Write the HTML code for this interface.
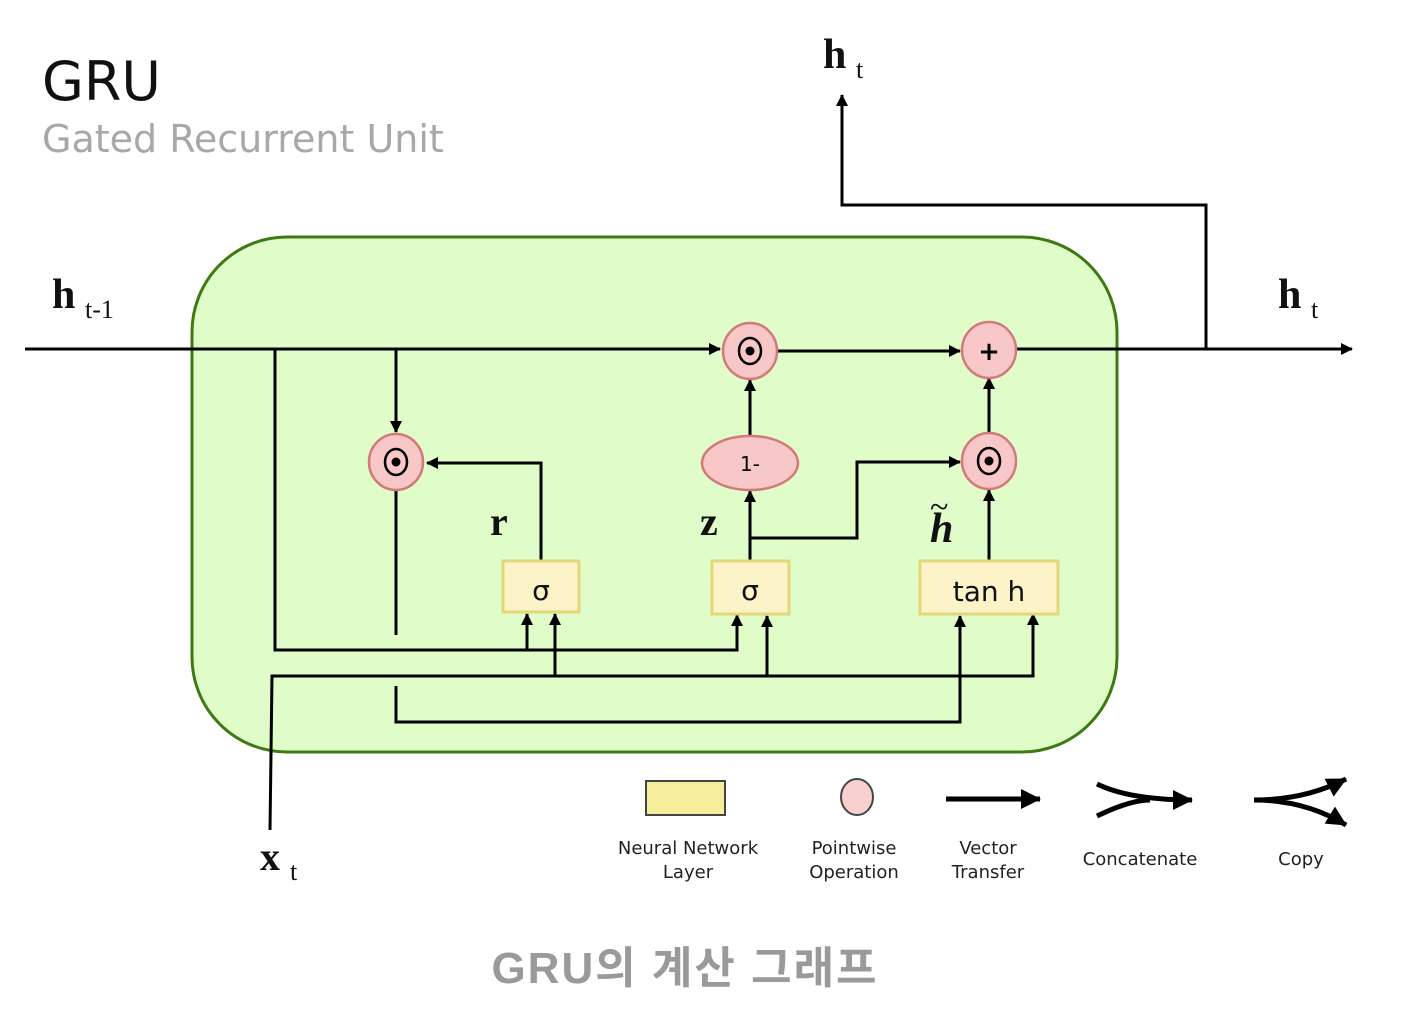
<!DOCTYPE html>
<html><head><meta charset="utf-8"><style>
html,body{margin:0;padding:0;background:#fff;}
svg{display:block;}
</style></head><body>
<svg width="1404" height="1027" viewBox="0 0 1404 1027" xmlns="http://www.w3.org/2000/svg">
<defs>
<marker id="a" markerWidth="12" markerHeight="12" refX="11" refY="6" orient="auto" markerUnits="userSpaceOnUse">
<path d="M0,0 L12,6 L0,12 z" fill="#000"/></marker>
<marker id="b" markerWidth="20" markerHeight="20" refX="19" refY="10" orient="auto" markerUnits="userSpaceOnUse">
<path d="M0,0 L20,10 L0,20 z" fill="#000"/></marker>
</defs>
<text x="42" y="100" font-family="DejaVu Sans, sans-serif" font-size="54" fill="#111">GRU</text>
<text x="42" y="152" font-family="DejaVu Sans, sans-serif" font-size="38" fill="#a8a8a8">Gated Recurrent Unit</text>

<rect x="192" y="237" width="925" height="515" rx="95" ry="95" fill="#e0fcc9" stroke="#3e7a12" stroke-width="3"/>

<g stroke="#000" stroke-width="3" fill="none">
<line x1="25" y1="349" x2="720" y2="349" marker-end="url(#a)"/>
<line x1="777" y1="351" x2="960" y2="351" marker-end="url(#a)"/>
<line x1="1017" y1="349" x2="1352" y2="349" marker-end="url(#a)"/>
<polyline points="1206,349 1206,205 842,205 842,95" marker-end="url(#a)"/>
<line x1="396" y1="349" x2="396" y2="432" marker-end="url(#a)"/>
<line x1="396" y1="490" x2="396" y2="635"/>
<polyline points="275,349 275,650 737,650 737,615" marker-end="url(#a)"/>
<line x1="527" y1="650" x2="527" y2="614" marker-end="url(#a)"/>
<polyline points="270,830 272,676 1033,676 1033,614" marker-end="url(#a)"/>
<line x1="555" y1="676" x2="555" y2="614" marker-end="url(#a)"/>
<line x1="767" y1="676" x2="767" y2="616" marker-end="url(#a)"/>
<polyline points="396,686 396,722 960,722 960,616" marker-end="url(#a)"/>
<polyline points="541,561 541,463 427,463" marker-end="url(#a)"/>
<line x1="750" y1="561" x2="750" y2="491" marker-end="url(#a)"/>
<line x1="750" y1="436" x2="750" y2="380" marker-end="url(#a)"/>
<polyline points="750,538 857,538 857,462 960,462" marker-end="url(#a)"/>
<line x1="989" y1="561" x2="989" y2="490" marker-end="url(#a)"/>
<line x1="989" y1="432" x2="989" y2="378" marker-end="url(#a)"/>
</g>

<g fill="#f8c8c8" stroke="#d27a7a" stroke-width="2.5">
<ellipse cx="750" cy="351" rx="27" ry="28"/>
<ellipse cx="989" cy="350" rx="27" ry="28"/>
<ellipse cx="989" cy="461" rx="27" ry="28"/>
<ellipse cx="396" cy="462" rx="27" ry="28"/>
<ellipse cx="750" cy="463" rx="48" ry="27"/>
</g>
<g fill="none" stroke="#000" stroke-width="2.5">
<ellipse cx="750" cy="351" rx="11" ry="13"/>
<ellipse cx="989" cy="461" rx="11" ry="13"/>
<ellipse cx="396" cy="462" rx="11" ry="13"/>
</g>
<g fill="#000">
<circle cx="750" cy="351" r="4.5"/><circle cx="989" cy="461" r="4.5"/><circle cx="396" cy="462" r="4.5"/>
</g>
<text x="989" y="360" text-anchor="middle" font-family="DejaVu Sans, sans-serif" font-size="26" font-weight="bold">+</text>
<text x="750" y="471" text-anchor="middle" font-family="DejaVu Sans, sans-serif" font-size="20">1-</text>

<g fill="#fdf3c8" stroke="#e3d77a" stroke-width="3">
<rect x="503" y="561" width="76" height="51"/>
<rect x="712" y="561" width="77" height="53"/>
<rect x="920" y="561" width="138" height="53"/>
</g>
<g font-family="DejaVu Sans, sans-serif" font-size="28" text-anchor="middle" fill="#111">
<text x="541" y="600">σ</text>
<text x="750" y="600">σ</text>
<text x="989" y="601">tan h</text>
</g>

<g font-family="Liberation Serif, serif" font-weight="bold" fill="#111">
<text x="490" y="535" font-size="40">r</text>
<text x="700" y="535" font-size="40">z</text>
<text x="52" y="308" font-size="42">h</text><text x="85" y="318" font-size="26" font-weight="normal">t-1</text>
<text x="823" y="68" font-size="42">h</text><text x="856" y="78" font-size="26" font-weight="normal">t</text>
<text x="1278" y="308" font-size="42">h</text><text x="1311" y="318" font-size="26" font-weight="normal">t</text>
<text x="260" y="870" font-size="40">x</text><text x="290" y="880" font-size="26" font-weight="normal">t</text>
</g>
<text x="930" y="542" font-family="Liberation Serif, serif" font-style="italic" font-weight="bold" font-size="42" fill="#111">h</text>
<text x="930" y="518" font-family="Liberation Serif, serif" font-size="34" fill="#111">~</text>

<rect x="646" y="781" width="79" height="34" fill="#f6ee9c" stroke="#444" stroke-width="2"/>
<ellipse cx="857" cy="797" rx="16" ry="18" fill="#f8d0d0" stroke="#444" stroke-width="2"/>
<g stroke="#000" stroke-width="5" fill="none">
<line x1="946" y1="799" x2="1040" y2="799" marker-end="url(#b)"/>
<path d="M1097,784 Q1130,800 1192,800" marker-end="url(#b)"/>
<path d="M1097,816 Q1130,800 1150,800"/>
<path d="M1254,800 Q1305,800 1346,779" marker-end="url(#b)"/>
<path d="M1254,800 Q1305,800 1346,825" marker-end="url(#b)"/>
</g>
<g font-family="DejaVu Sans, sans-serif" font-size="18" fill="#222" text-anchor="middle">
<text x="688" y="854">Neural Network</text><text x="688" y="878">Layer</text>
<text x="854" y="854">Pointwise</text><text x="854" y="878">Operation</text>
<text x="988" y="854">Vector</text><text x="988" y="878">Transfer</text>
<text x="1140" y="865">Concatenate</text>
<text x="1301" y="865">Copy</text>
</g>

<text x="685" y="983" text-anchor="middle" font-family="Liberation Sans, Noto Sans CJK KR, sans-serif" font-weight="bold" font-size="44" letter-spacing="2" fill="#9a9a9a">GRU의 계산 그래프</text>
</svg>
</body></html>
